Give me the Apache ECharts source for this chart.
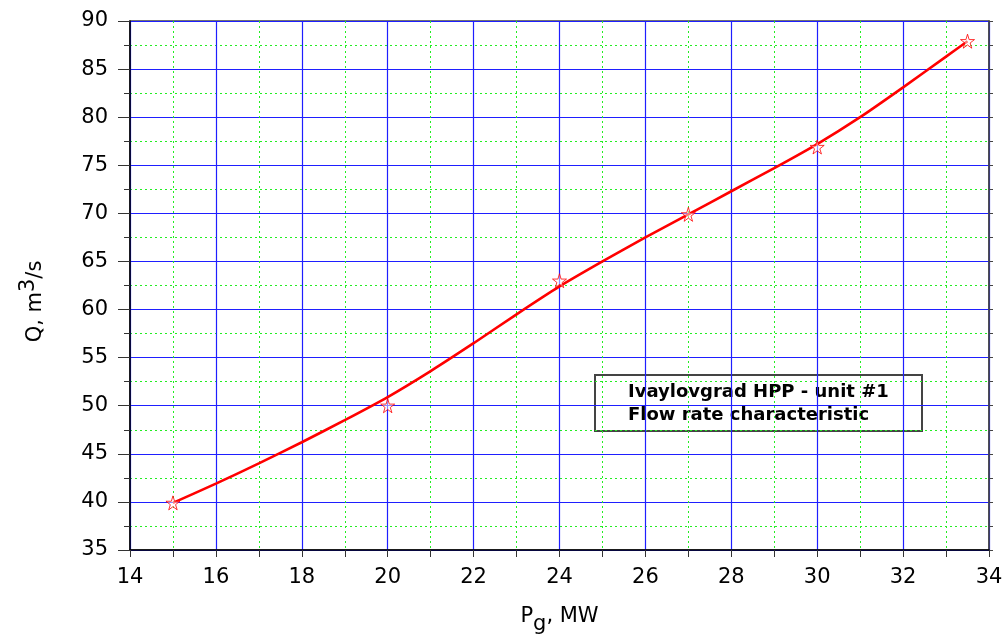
<!DOCTYPE html>
<html>
<head>
<meta charset="utf-8">
<script src="https://cdn.jsdelivr.net/npm/echarts@6/dist/echarts.min.js"></script>
<style>
  html, body { margin: 0; padding: 0; background: #fff; }
  #chart { width: 1005px; height: 638px; }
</style>
</head>
<body>
<div id="chart"></div>
<script>
// measured points (stars)
const pointsX = [15, 20, 24, 27, 30, 33.5]
const pointsQ = [39.9, 50.0, 63.0, 69.9, 76.9, 87.9]

// fitted curve
const curveX = [15, 16, 17, 18, 19, 20, 21, 22, 23, 24, 25, 26, 27, 28, 29, 30, 31, 32, 33, 33.5]
const curveQ = [39.9, 41.9, 44.0, 46.2, 48.5, 50.9, 53.6, 56.5, 59.5, 62.4, 65.0, 67.5, 69.9, 72.3, 74.7, 77.2, 80.0, 83.1, 86.3, 87.9]

const xTicks = { min: 14, max: 34, step: 2 }
const yTicks = { min: 35, max: 90, step: 5 }

const titleLines = ['Ivaylovgrad HPP - unit #1', 'Flow rate characteristic']

const STAR = 'path://M50,0 L61,35 L98,35 L68,57 L79,91 L50,70 L21,91 L32,57 L2,35 L39,35 Z'
const FONT = '"DejaVu Sans", Verdana, sans-serif'

const chart = echarts.init(document.getElementById('chart'))

const option = {
  animation: false,
  grid: {
    left: 130, right: 16, top: 21, bottom: 88,
    outerBoundsMode: 'none',
    show: true, borderColor: '#444', borderWidth: 1.5, backgroundColor: 'transparent'
  },
  xAxis: {
    type: 'value',
    min: xTicks.min, max: xTicks.max, interval: xTicks.step,
    name: 'P{sub|g}, MW',
    nameLocation: 'middle',
    nameGap: 48,
    nameTextStyle: {
      fontFamily: FONT, fontSize: 21, color: '#000',
      rich: { sub: { fontFamily: FONT, fontSize: 21, color: '#000', padding: [16, 0, 0, 0] } }
    },
    axisLine: { lineStyle: { color: '#000', width: 1.5 } },
    axisTick: { show: true, length: 7, lineStyle: { color: '#333' } },
    minorTick: { show: true, splitNumber: 2, length: 7, lineStyle: { color: '#333' } },
    axisLabel: { fontFamily: FONT, fontSize: 21, color: '#000', margin: 17 },
    splitLine: { show: true, lineStyle: { color: '#1f1fff', width: 1.2 } },
    minorSplitLine: { show: true, lineStyle: { color: '#22ee22', width: 1, type: [2, 3] } }
  },
  yAxis: [
    {
      type: 'value',
      min: yTicks.min, max: yTicks.max, interval: yTicks.step,
      name: 'Q, m{sup|3}/s',
      nameLocation: 'middle',
      nameGap: 77,
      nameRotate: 90,
      nameTextStyle: {
        fontFamily: FONT, fontSize: 21, color: '#000',
        padding: [0, 32, 0, 0],
        rich: { sup: { fontFamily: FONT, fontSize: 21, color: '#000', padding: [0, 0, 14, 0] } }
      },
      axisLine: { show: true, lineStyle: { color: '#000', width: 1.5 } },
      axisTick: { show: true, length: 12, lineStyle: { color: '#333' } },
      minorTick: { show: true, splitNumber: 2, length: 6, lineStyle: { color: '#333' } },
      axisLabel: { fontFamily: FONT, fontSize: 21, color: '#000', margin: 22 },
      splitLine: { show: true, lineStyle: { color: '#1f1fff', width: 1.2 } },
      minorSplitLine: { show: true, lineStyle: { color: '#22ee22', width: 1, type: [2, 3] } }
    },
    {
      type: 'value',
      position: 'right',
      min: yTicks.min, max: yTicks.max, interval: yTicks.step,
      axisLine: { show: true, lineStyle: { color: '#444', width: 1.5 } },
      axisTick: { show: true, length: 4, lineStyle: { color: '#444' } },
      minorTick: { show: true, splitNumber: 2, length: 4, lineStyle: { color: '#444' } },
      axisLabel: { show: false },
      splitLine: { show: false },
      minorSplitLine: { show: false }
    }
  ],
  series: [
    {
      type: 'line',
      smooth: 0.2,
      showSymbol: false,
      data: curveX.map((x, i) => [x, curveQ[i]]),
      lineStyle: { color: '#ff0000', width: 2.6 },
      z: 3
    },
    {
      type: 'scatter',
      symbol: STAR,
      symbolSize: 14,
      data: pointsX.map((x, i) => [x, pointsQ[i]]),
      itemStyle: { color: 'rgba(255,255,255,0.6)', borderColor: '#ff0000', borderWidth: 1 },
      z: 4
    }
  ],
  graphic: [
    {
      type: 'group',
      left: 594,
      top: 374,
      children: [
        {
          type: 'rect',
          shape: { x: 0, y: 0, width: 327, height: 56 },
          style: { fill: '#fff', stroke: '#444', lineWidth: 2 }
        },
        {
          type: 'text',
          x: 33, y: 6,
          style: {
            text: titleLines.join('\n'),
            fontFamily: FONT, fontSize: 18, fontWeight: 'bold',
            lineHeight: 23, fill: '#000'
          }
        }
      ]
    }
  ]
}

chart.setOption(option)
</script>
</body>
</html>
